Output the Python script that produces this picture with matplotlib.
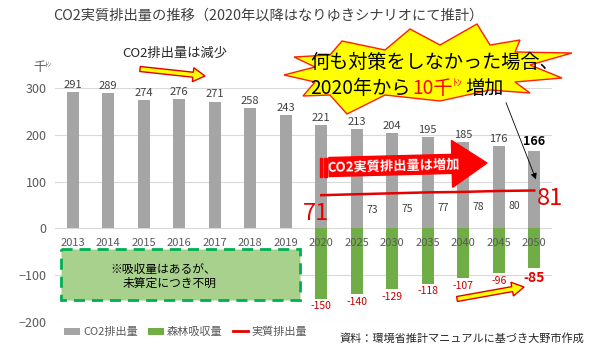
import numpy as np
import matplotlib
matplotlib.use('Agg')
import matplotlib.pyplot as plt
from matplotlib.patches import Polygon, Rectangle, FancyArrow, Patch
from matplotlib.lines import Line2D
from matplotlib.transforms import Affine2D

plt.rcParams['font.family'] = ['Noto Sans CJK JP', 'DejaVu Sans']

# ---------------- data ----------------
years = ['2013', '2014', '2015', '2016', '2017', '2018', '2019',
         '2020', '2025', '2030', '2035', '2040', '2045', '2050']
emissions = [291, 289, 274, 276, 271, 258, 243, 221, 213, 204, 195, 185, 176, 166]
absorption = [np.nan] * 7 + [-150, -140, -129, -118, -107, -96, -85]
net = [np.nan] * 7 + [71, 73, 75, 77, 78, 80, 81]
yticks = [-200, -100, 0, 100, 200, 300]

title = 'CO2実質排出量の推移（2020年以降はなりゆきシナリオにて推計）'
legend_labels = ['CO2排出量', '森林吸収量', '実質排出量']
source = '資料：環境省推計マニュアルに基づき大野市作成'

GRAY = '#A5A5A5'
GREEN = '#70AD47'
RED = '#E60000'
DRED = '#C00000'
TXT = '#595959'

W, H = 600, 358
fig = plt.figure(figsize=(W / 100, H / 100), dpi=100)
fig.patch.set_facecolor('white')
ax = fig.add_axes([55 / W, 1 - 322 / H, (552 - 55) / W, (322 - 88) / H])
PX = Affine2D().scale(1 / W, -1 / H).translate(0, 1) + fig.transFigure

x = np.arange(len(years))
em = np.array(emissions, dtype=float)
ab = np.array(absorption, dtype=float)
nt = np.array(net, dtype=float)
mask = ~np.isnan(ab)

ax.bar(x, em, width=0.33, color=GRAY, zorder=2)
ax.bar(x[mask], ab[mask], width=0.33, color=GREEN, zorder=2)
ax.plot(x[mask], nt[mask], color=RED, lw=1.8, zorder=4)

ax.set_xlim(-0.5, len(years) - 0.5)
ax.set_ylim(-200, 300)
ax.set_yticks(yticks)
ax.set_xticks([])
ax.yaxis.grid(True, color='#D9D9D9', lw=0.8)
ax.set_axisbelow(True)
ax.tick_params(axis='y', length=0, pad=6, labelsize=9, labelcolor=TXT)
for s in ax.spines.values():
    s.set_visible(False)

# year labels inside plot
for i, yr in enumerate(years):
    ax.text(i, -32, yr, ha='center', va='center', fontsize=8, color=TXT, zorder=6)

# emission labels
for i, v in enumerate(emissions):
    if i == len(emissions) - 1:
        ax.annotate(str(v), (i, v), xytext=(0, 2), textcoords='offset points',
                    ha='center', va='bottom', fontsize=9, fontweight='bold',
                    color='black', annotation_clip=False)
    else:
        ax.annotate(str(v), (i, v), xytext=(0, 1.5), textcoords='offset points',
                    ha='center', va='bottom', fontsize=8, color='#404040',
                    annotation_clip=False)

# absorption labels
for i in x[mask]:
    v = ab[i]
    if i == len(years) - 1:
        ax.annotate(f'{int(v)}', (i, v), xytext=(0, -2),
                    textcoords='offset points', ha='center', va='top',
                    fontsize=10, fontweight='bold', color=RED)
    else:
        ax.annotate(f'{int(v)}', (i, v), xytext=(0, -2), textcoords='offset points',
                    ha='center', va='top', fontsize=7.5, color=DRED)

# net labels
idx = list(x[mask])
for k, i in enumerate(idx):
    v = nt[i]
    if k == 0:
        ax.annotate(f'{int(v)}', (i, v), xytext=(-4, -13), textcoords='offset points',
                    ha='center', va='center', fontsize=17, color=RED)
    elif k == len(idx) - 1:
        ax.annotate(f'{int(v)}', (i, v), xytext=(11, -6), textcoords='offset points',
                    ha='center', va='center', fontsize=17, color=RED)
    else:
        ax.annotate(f'{int(v)}', (i, v), xytext=(11, -11), textcoords='offset points',
                    ha='center', va='center', fontsize=7.5, color='#404040')

# unit label
fig.text(33, 68, '千', transform=PX, fontsize=9, color=TXT, va='center', ha='left')
fig.text(44, 65, 'ﾄﾝ', transform=PX, fontsize=5, color=TXT, va='center', ha='left')

# title
fig.text(53, 16, title, transform=PX, fontsize=10.3, color='#404040', va='center', ha='left')

# "CO2排出量は減少"
fig.text(122, 53, 'CO2排出量は減少', transform=PX, fontsize=9.5, color='#262626',
         va='center', ha='left')

def yellow_arrow(x0, y0, x1, y1):
    a = FancyArrow(x0, y0, x1 - x0, y1 - y0, width=5, head_width=14, head_length=12,
                   length_includes_head=True, facecolor='#FFFF00', edgecolor='#E00000',
                   lw=1, transform=PX, zorder=5)
    fig.add_artist(a)

yellow_arrow(140, 69, 205, 76)
yellow_arrow(457, 299, 524, 287)

# dashed green box
box = Rectangle((61, 249), 239, 51, transform=PX, facecolor='#A9D18E',
                edgecolor='#00B050', lw=2, linestyle=(0, (4, 2.5)), zorder=3)
fig.add_artist(box)
fig.text(110, 269, '※吸収量はあるが、', transform=PX, fontsize=8.5, color='black',
         va='center', ha='left', zorder=4)
fig.text(123, 283, '未算定につき不明', transform=PX, fontsize=8.5, color='black',
         va='center', ha='left', zorder=4)

# big red arrow
fig.add_artist(Rectangle((320, 157.5), 2, 19, transform=PX, color='#FF0000', zorder=5))
fig.add_artist(Rectangle((324, 157.5), 3, 19, transform=PX, color='#FF0000', zorder=5))
fig.add_artist(FancyArrow(329, 167, 158, -4, width=19, head_width=47, head_length=35,
                          length_includes_head=True, color='#FF0000', transform=PX,
                          zorder=5))
fig.text(393, 166, 'CO2実質排出量は増加', transform=PX, fontsize=9.5, color='white',
         fontweight='bold', va='center', ha='center', rotation=1.5, zorder=6)

# starburst
star = [(342, 41), (385, 50), (410, 29), (440, 45), (477, 24), (490, 45), (520, 40),
        (515, 52), (572, 53), (530, 65), (562, 78), (515, 82), (530, 93), (490, 90),
        (440, 101), (385, 95), (347, 114), (330, 95), (303, 96), (315, 82), (284, 75),
        (315, 67), (294, 57), (330, 55)]
fig.add_artist(Polygon(star, closed=True, transform=PX, facecolor='#FFFF00',
                       edgecolor='#FF2000', lw=1, zorder=7))
fig.text(310, 62, '何も対策をしなかった場合、', transform=PX, fontsize=13.8,
         color='black', va='center', ha='left', zorder=8)
t1 = fig.text(310, 88, '2020年から', transform=PX, fontsize=13.8, color='black',
              va='center', ha='left', zorder=8)
fig.canvas.draw()
xa = t1.get_window_extent().x1 + 2
t2 = fig.text(xa, 88, '10千', transform=PX, fontsize=13.8, color='#FF0000',
              va='center', ha='left', zorder=8)
fig.canvas.draw()
xb = t2.get_window_extent().x1
t3 = fig.text(xb, 83, 'ﾄﾝ', transform=PX, fontsize=7, color='#FF0000',
              va='center', ha='left', zorder=8)
fig.canvas.draw()
xc = t3.get_window_extent().x1 + 3
fig.text(xc, 88, '増加', transform=PX, fontsize=13.8, color='black',
         va='center', ha='left', zorder=8)

# thin black arrow
ax.annotate('', xy=(537, 182), xytext=(505, 100), xycoords=PX, textcoords=PX,
            arrowprops=dict(arrowstyle='-|>', color='black', lw=0.6, mutation_scale=9),
            annotation_clip=False, zorder=8)

# legend
handles = [Patch(facecolor=GRAY), Patch(facecolor=GREEN), Line2D([], [], color=RED, lw=2)]
fig.legend(handles, legend_labels, loc='center left',
           bbox_to_anchor=(60 / W, 1 - 332 / H), ncol=3, frameon=False, fontsize=8,
           handlelength=1.4, handleheight=0.6, handletextpad=0.3, columnspacing=0.9,
           borderaxespad=0, labelcolor=TXT)

# source
fig.text(340, 338, source, transform=PX, fontsize=8, color='#262626', va='center',
         ha='left')

fig.savefig('out.png', dpi=100)
